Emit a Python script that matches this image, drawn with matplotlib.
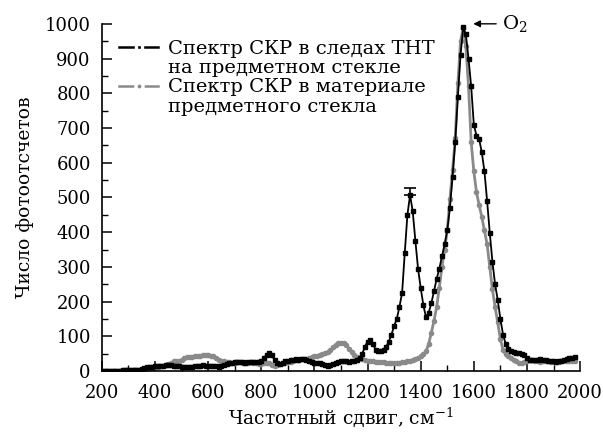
import matplotlib
matplotlib.use("Agg")
import matplotlib.pyplot as plt
from matplotlib.ticker import MultipleLocator
from matplotlib.lines import Line2D

wavenumber = list(range(200, 1990, 10))

tnt_counts = [
    0, 0, 0, 0, 0, 1, 1, 1, 2, 2,            # 200-290
    2, 3, 3, 3, 4, 6, 9, 11, 12, 13,         # 300-390
    14, 15, 14, 16, 17, 18, 17, 16, 15, 14,  # 400-490
    13, 12, 13, 13, 12, 14, 15, 16, 17, 16,  # 500-590
    15, 14, 15, 14, 13, 15, 17, 20, 22, 24,  # 600-690
    25, 25, 26, 25, 24, 25, 26, 27, 26, 25,  # 700-790
    30, 38, 47, 52, 45, 32, 22, 20, 23, 28,  # 800-890
    30, 32, 33, 34, 33, 35, 34, 32, 28, 25,  # 900-990
    22, 24, 23, 20, 17, 16, 17, 20, 24, 27,  # 1000-1090
    28, 29, 28, 27, 28, 30, 33, 38, 50, 70,  # 1100-1190
    85, 90, 78, 62, 57, 58, 62, 70, 85, 105,  # 1200-1290
    130, 150, 185, 225, 340, 450, 507, 460, 375, 295,  # 1300-1390
    240, 190, 155, 168, 195, 230, 265, 295, 330, 365,  # 1400-1490
    405, 470, 560, 660, 790, 910, 990, 970, 900, 820,  # 1500-1590
    710, 678, 668, 630, 575, 490, 398, 315, 250, 205,  # 1600-1690
    150, 105, 78, 65, 57, 54, 53, 52, 50, 45,  # 1700-1790
    38, 33, 32, 31, 32, 34, 33, 31, 30, 29,    # 1800-1890
    28, 27, 28, 30, 33, 36, 38, 39, 40,        # 1900-1980
]

glass_counts = [
    0, 0, 0, 0, 0, 1, 1, 1, 2, 2,            # 200-290
    2, 2, 3, 3, 3, 4, 5, 6, 8, 9,            # 300-390
    10, 12, 14, 16, 18, 20, 22, 28, 30, 28,  # 400-490
    32, 38, 40, 40, 41, 42, 43, 44, 46, 46,  # 500-590
    45, 44, 42, 38, 33, 30, 28, 26, 25, 24,  # 600-690
    24, 25, 25, 24, 23, 24, 25, 24, 22, 20,  # 700-790
    20, 22, 24, 22, 18, 16, 18, 20, 22, 24,  # 800-890
    25, 27, 29, 31, 33, 34, 35, 36, 38, 40,  # 900-990
    42, 44, 47, 50, 52, 55, 60, 68, 76, 80,  # 1000-1090
    81, 80, 74, 65, 55, 47, 40, 37, 34, 32,  # 1100-1190
    30, 29, 28, 27, 27, 26, 25, 24, 24, 23,  # 1200-1290
    23, 23, 24, 25, 26, 28, 30, 32, 35, 38,  # 1300-1390
    42, 48, 57, 78, 110, 145, 184, 240, 300, 350,  # 1400-1490
    405, 495, 580, 670, 830, 950, 988, 935, 820, 660,  # 1500-1590
    575, 515, 478, 444, 405, 365, 300, 235, 185, 140,  # 1600-1690
    92, 60, 48, 42, 38, 33, 28, 24, 23, 25,    # 1700-1790
    28, 31, 32, 30, 28, 27, 28, 29, 28, 27,    # 1800-1890
    26, 26, 27, 28, 29, 30, 30, 30, 30,        # 1900-1980
]

errbar_x = [1360]
errbar_y = [507]
errbar_up = [20]

x_ticks = list(range(200, 2001, 200))
y_ticks = list(range(0, 1001, 100))

legend_lines = ['Спектр СКР в следах ТНТ', 'на предметном стекле',
                'Спектр СКР в материале', 'предметного стекла']

plt.rcParams['font.family'] = ['DejaVu Serif']
plt.rcParams['mathtext.fontset'] = 'dejavuserif'

fig = plt.figure(figsize=(6.03, 4.33), dpi=100)
ax = fig.add_axes([0.169, 0.143, 0.793, 0.802])

grey = '#8a8a8a'
l2, = ax.plot(wavenumber, glass_counts, color=grey, lw=2.0, marker='o', ms=3.0,
              mec=grey, mfc=grey, zorder=2)
l1, = ax.plot(wavenumber, tnt_counts, color='black', lw=1.3, marker='s', ms=3.0,
              mec='black', mfc='black', zorder=3)
ax.errorbar(errbar_x, errbar_y, yerr=[[0] * len(errbar_up), errbar_up], fmt='none',
            ecolor='black', elinewidth=1.2, capsize=4, capthick=1.2, zorder=4)

ax.set_xlim(200, 2000)
ax.set_ylim(0, 1000)
ax.set_xticks(x_ticks)
ax.set_yticks(y_ticks)
ax.xaxis.set_minor_locator(MultipleLocator(100))
ax.yaxis.set_minor_locator(MultipleLocator(50))
ax.tick_params(axis='y', which='major', direction='in', length=7, width=1.1,
               labelsize=13, pad=8)
ax.tick_params(axis='x', which='major', direction='in', length=7, width=1.1,
               labelsize=13, pad=9)
ax.tick_params(which='minor', direction='in', length=4, width=1.0)
for s in ['top', 'right']:
    ax.spines[s].set_visible(False)
for s in ['left', 'bottom']:
    ax.spines[s].set_linewidth(1.2)

ax.set_xlabel('Частотный сдвиг, см$^{-1}$', fontsize=13.5, labelpad=3)
ax.set_ylabel('Число фотоотсчетов', fontsize=13.5, labelpad=8)

h1 = Line2D([], [], color='black', lw=1.8, marker='s', ms=4.9, mfc='black',
            mec='white', mew=2.4)
h2 = Line2D([], [], color=grey, lw=1.8, marker='o', ms=5.2, mfc=grey,
            mec='white', mew=2.4)
blank = Line2D([], [], color='none', lw=0)
leg = ax.legend(handles=[h1, blank, h2, blank], labels=legend_lines,
                loc='upper left', bbox_to_anchor=(0.036, 0.953),
                frameon=False, fontsize=14, numpoints=1, handlelength=2.0,
                handletextpad=0.5, labelspacing=0.06, borderaxespad=0,
                borderpad=0)

ax.annotate('O$_2$', xy=(1598, 1000), xytext=(1705, 1000), fontsize=14,
            va='center', ha='left', annotation_clip=False,
            arrowprops=dict(arrowstyle='-|>', color='black', lw=1.0,
                            shrinkA=2, shrinkB=0, mutation_scale=10))

fig.savefig('out.png', dpi=100)
